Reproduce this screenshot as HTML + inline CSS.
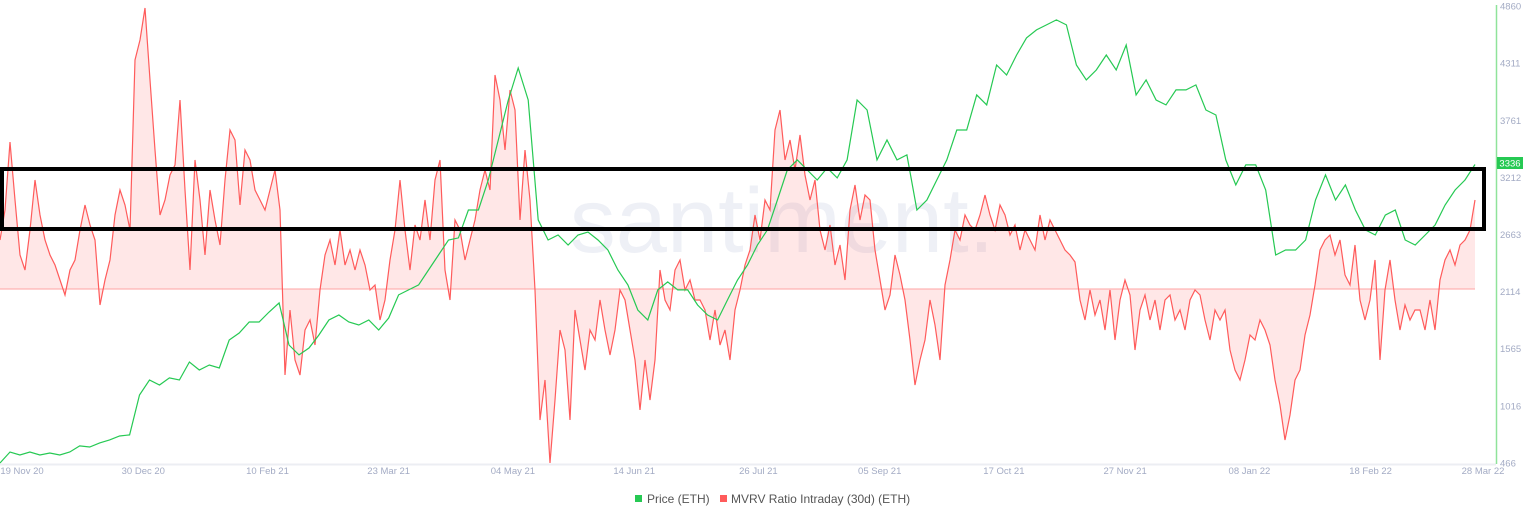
<!DOCTYPE html>
<html><head><meta charset="utf-8"><style>
html,body{margin:0;padding:0;background:#fff;}
body{width:1536px;height:520px;overflow:hidden;font-family:"Liberation Sans",sans-serif;}
svg{display:block}
</style></head><body>
<svg id="chart" width="1536" height="520" viewBox="0 0 1536 520" xmlns="http://www.w3.org/2000/svg">
<text x="782" y="252" text-anchor="middle" font-size="92" fill="#eef0f6" font-family="Liberation Sans, sans-serif">santiment.</text>
<g id="mvrv-layer"></g>
<g id="price-layer"></g>
<rect x="2" y="169" width="1482" height="60" fill="none" stroke="#000" stroke-width="4"/>
<line x1="0" y1="464.5" x2="1496" y2="464.5" stroke="#eceef3" stroke-width="2"/>
<line x1="1496.5" y1="5" x2="1496.5" y2="464" stroke="#8fe39a" stroke-width="1.5"/>
<g id="y-ticks"></g>
<g id="x-ticks"></g>
<g>
<rect x="1497" y="157" width="26" height="12" fill="#26c953"/>
<text x="1510" y="166.5" text-anchor="middle" font-size="9.5" fill="#fff">3336</text>
</g>
<g>
<g>
<rect x="635" y="495" width="7" height="7" fill="#26c953"/>
<text x="647" y="503" font-size="12" fill="#555">Price (ETH)</text>
</g>
<g>
<rect x="720" y="495" width="7" height="7" fill="#ff5b5b"/>
<text x="731" y="503" font-size="12" fill="#555">MVRV Ratio Intraday (30d) (ETH)</text>
</g>
</g>
</svg>
<script>
const priceTicks=[4860,4311,3761,3212,2663,2114,1565,1016,466];
const dateLabels=["19 Nov 20","30 Dec 20","10 Feb 21","23 Mar 21","04 May 21","14 Jun 21","26 Jul 21","05 Sep 21","17 Oct 21","27 Nov 21","08 Jan 22","18 Feb 22","28 Mar 22"];
const dateDayOffsets=[0,41,83,124,166,207,249,290,332,373,415,456,494];
const priceValues=[466,572,543,572,543,562,543,572,630,620,659,688,726,736,1120,1264,1216,1284,1264,1437,1360,1408,1379,1649,1716,1822,1822,1918,2005,1601,1505,1572,1697,1841,1889,1822,1793,1841,1745,1860,2082,2130,2178,2322,2466,2610,2630,2899,2899,3187,3572,3956,4264,3956,2803,2610,2658,2562,2658,2687,2610,2514,2322,2178,1937,1841,2130,2207,2130,2130,1985,1889,1841,2034,2226,2370,2562,2707,2995,3283,3380,3283,3187,3303,3207,3380,3956,3860,3380,3572,3380,3428,2899,2995,3187,3380,3668,3668,4005,3909,4293,4197,4389,4553,4630,4678,4726,4678,4293,4149,4245,4389,4245,4485,4005,4149,3956,3909,4053,4053,4101,3860,3812,3380,3140,3332,3332,3091,2466,2514,2514,2610,2995,3236,2995,3140,2899,2707,2658,2850,2899,2610,2562,2658,2754,2947,3091,3187,3336];
const mvrvValues=[4.9,7.9,14.7,8.9,3.4,1.9,5.9,10.9,7.4,4.9,3.4,2.4,0.9,-0.6,1.9,2.9,5.9,8.4,6.4,4.9,-1.6,0.9,2.9,7.4,9.9,8.4,5.9,22.9,24.9,28.1,20.9,13.9,7.4,8.9,11.4,12.4,18.9,9.9,1.9,12.9,8.9,3.4,9.9,6.9,4.4,10.9,15.9,14.9,8.4,13.9,12.9,9.9,8.9,7.9,9.9,11.9,7.9,-8.6,-2.1,-7.1,-8.6,-4.1,-3.1,-5.6,-0.1,3.4,4.9,2.4,5.9,2.4,3.9,1.9,3.9,2.4,-0.1,0.4,-3.1,-1.1,2.9,5.9,10.9,5.9,1.9,6.4,4.9,8.9,4.9,10.9,12.9,1.9,-1.1,6.9,5.9,2.9,4.9,6.9,9.9,11.9,9.9,21.4,18.9,13.9,19.9,17.9,6.9,13.9,8.9,-0.1,-13.1,-9.1,-17.4,-11.1,-4.1,-6.1,-13.1,-2.1,-5.1,-8.1,-4.1,-5.1,-1.1,-4.1,-6.6,-4.1,-0.1,-1.1,-4.1,-7.1,-12.1,-7.1,-11.1,-7.1,1.9,-1.1,-2.1,1.9,2.9,-0.1,0.9,-1.1,-1.1,-2.1,-5.1,-2.1,-5.6,-4.1,-7.1,-2.1,-0.1,2.4,3.9,7.4,4.9,8.9,7.9,15.9,17.9,12.9,14.9,11.9,15.4,11.4,8.9,10.9,5.9,3.9,6.4,2.4,4.4,0.9,7.9,10.4,6.9,9.4,8.9,3.9,0.9,-2.1,-0.6,3.4,1.4,-1.1,-5.1,-9.6,-7.1,-5.1,-1.1,-3.6,-7.1,0.4,2.9,5.9,4.9,7.4,6.4,5.9,7.4,9.4,7.4,5.9,8.4,7.4,5.4,6.4,3.9,5.9,4.9,3.9,7.4,4.9,6.9,5.9,4.9,3.9,3.4,2.7,-1.1,-3.1,-0.1,-2.6,-1.1,-4.1,-0.1,-5.1,-1.1,0.9,-0.6,-6.1,-2.1,-0.6,-3.1,-1.1,-4.1,-1.1,-0.6,-3.1,-2.1,-4.1,-1.1,-0.1,-0.6,-3.1,-5.1,-2.1,-3.1,-2.1,-6.1,-8.1,-9.1,-7.1,-4.6,-5.1,-3.1,-4.1,-5.6,-9.1,-11.6,-15.1,-12.6,-9.1,-8.1,-4.6,-2.6,0.4,3.9,4.9,5.4,3.4,4.9,1.4,0.4,4.4,-1.1,-3.1,-1.1,2.9,-7.1,-0.1,2.9,-1.1,-4.1,-1.6,-3.1,-2.1,-2.1,-4.1,-1.1,-4.1,0.9,2.9,3.9,2.4,4.4,4.9,5.9,8.9];

const NS="http://www.w3.org/2000/svg";
const X0=0,X1=1475,TOTAL_DAYS=494,DAY0_X=22,DAY_END_X=1483;
function xIdx(i,n){return X0+(X1-X0)*i/(n-1);}
function yPrice(v){return 463-(v-466)*(457/(4860-466));}
function yMvrv(v){return 289-v*10;}
function xDay(d){return DAY0_X+(DAY_END_X-DAY0_X)*d/TOTAL_DAYS;}

const mv=document.getElementById('mvrv-layer');
let pts=mvrvValues.map((v,i)=>[xIdx(i,mvrvValues.length),yMvrv(v)]);
const area=document.createElementNS(NS,'path');
area.setAttribute('d','M'+pts[0][0]+','+yMvrv(0)+pts.map(p=>'L'+p[0].toFixed(1)+','+p[1].toFixed(1)).join('')+'L'+pts[pts.length-1][0]+','+yMvrv(0)+'Z');
area.setAttribute('fill','rgba(255,91,91,0.15)');


mv.appendChild(area);
const base=document.createElementNS(NS,'line');
base.setAttribute('x1',0);base.setAttribute('x2',X1);base.setAttribute('y1',yMvrv(0));base.setAttribute('y2',yMvrv(0));
base.setAttribute('stroke','#ffa3a3');base.setAttribute('stroke-width','1');


mv.appendChild(base);
const mline=document.createElementNS(NS,'polyline');
mline.setAttribute('points',pts.map(p=>p[0].toFixed(1)+','+p[1].toFixed(1)).join(' '));
mline.setAttribute('fill','none');mline.setAttribute('stroke','#ff5b5b');mline.setAttribute('stroke-width','1.2');


mv.appendChild(mline);

const pl=document.getElementById('price-layer');
const pline=document.createElementNS(NS,'polyline');
pline.setAttribute('points',priceValues.map((v,i)=>xIdx(i,priceValues.length).toFixed(1)+','+yPrice(v).toFixed(1)).join(' '));
pline.setAttribute('fill','none');pline.setAttribute('stroke','#26c953');pline.setAttribute('stroke-width','1.2');


pl.appendChild(pline);

const yt=document.getElementById('y-ticks');
priceTicks.forEach(v=>{
  const t=document.createElementNS(NS,'text');
  t.setAttribute('x',1500);t.setAttribute('y',(yPrice(v)+3.5).toFixed(1));
  t.setAttribute('font-size','9.5');t.setAttribute('fill','#a3abc4');
  t.textContent=v;
  
  
  yt.appendChild(t);
});
const xt=document.getElementById('x-ticks');
dateLabels.forEach((l,i)=>{
  const t=document.createElementNS(NS,'text');
  t.setAttribute('x',xDay(dateDayOffsets[i]).toFixed(1));t.setAttribute('y',474);
  t.setAttribute('text-anchor','middle');
  t.setAttribute('font-size','9.5');t.setAttribute('fill','#a3abc4');
  t.textContent=l;
  
  
  xt.appendChild(t);
});
</script>
</body></html>
